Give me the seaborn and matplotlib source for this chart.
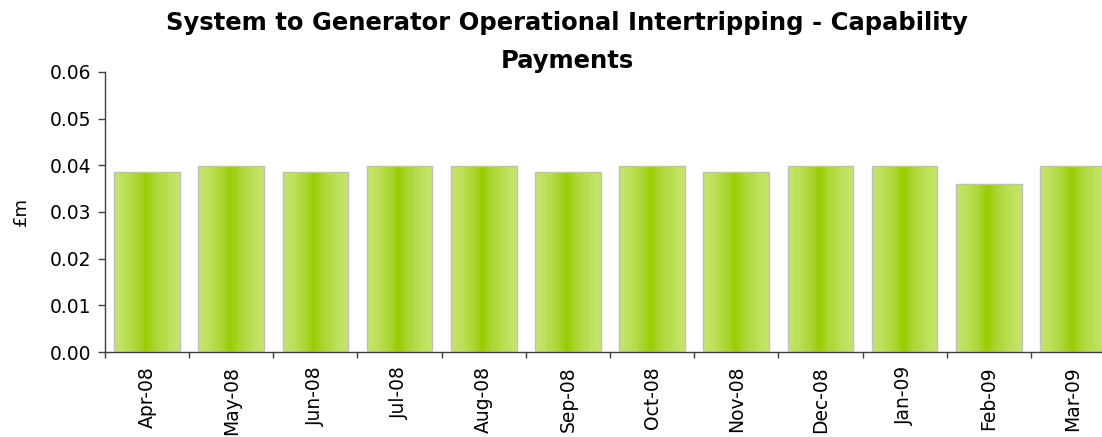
import numpy as np
import pandas as pd
import matplotlib
matplotlib.use("Agg")
import matplotlib.pyplot as plt
from matplotlib.colors import LinearSegmentedColormap
import seaborn as sns

months = ["Apr-08", "May-08", "Jun-08", "Jul-08", "Aug-08", "Sep-08",
          "Oct-08", "Nov-08", "Dec-08", "Jan-09", "Feb-09", "Mar-09"]
payments = [0.0386, 0.0398, 0.0386, 0.0398, 0.0398, 0.0386,
            0.0398, 0.0386, 0.0398, 0.0398, 0.0361, 0.0398]
yticks = [0.00, 0.01, 0.02, 0.03, 0.04, 0.05, 0.06]
title = "System to Generator Operational Intertripping - Capability\nPayments"

sns.set_theme(style="white")
plt.rcParams['font.family'] = ['DejaVu Sans']
plt.rcParams['text.color'] = 'black'
plt.rcParams['xtick.color'] = 'black'
plt.rcParams['ytick.color'] = 'black'
plt.rcParams['axes.labelcolor'] = 'black'

df = pd.DataFrame({"month": months, "value": payments})

fig = plt.figure(figsize=(11.02, 4.37), dpi=100)
ax = fig.add_axes([105 / 1102, 85 / 437, 1010 / 1102, 280 / 437])

sns.barplot(data=df, x="month", y="value", color="#99cc00", width=0.78,
            ax=ax, saturation=1)

cmap = LinearSegmentedColormap.from_list(
    "g", [(0.0, "#c6e46e"), (0.15, "#bde05a"), (0.35, "#aad634"),
          (0.48, "#99cc00"), (0.62, "#aad634"), (0.85, "#bde05a"),
          (1.0, "#c6e46e")])
n_strips = 60
for p in list(ax.patches):
    x0, y0 = p.get_x(), p.get_y()
    w, h = p.get_width(), p.get_height()
    sw = w / n_strips
    lefts = x0 + sw * np.arange(n_strips)
    cols = [cmap((i + 0.5) / n_strips) for i in range(n_strips)]
    ax.bar(lefts, h, width=sw * 1.02, bottom=y0, align="edge",
           color=cols, linewidth=0, zorder=2)
    p.set_facecolor("none")
    p.set_edgecolor("#bfbfbf")
    p.set_linewidth(1.0)
    p.set_zorder(3)

ax.set_xlim(-0.5, len(months) - 0.5)
ax.set_ylim(0, 0.06)
ax.set_yticks(yticks)
ax.set_yticklabels([f"{v:.2f}" for v in yticks], fontsize=13.5)

ax.set_xticks(np.arange(-0.5, len(months), 1.0))
ax.set_xticklabels([])
ax.set_xticks(np.arange(len(months)), minor=True)
ax.set_xticklabels(months, minor=True, rotation=90, fontsize=13.5)
ax.tick_params(axis="x", which="major", direction="out", length=4,
               width=1, color="#404040", bottom=True)
ax.tick_params(axis="x", which="minor", length=0, pad=10, bottom=True)
ax.tick_params(axis="y", direction="out", length=5, width=1,
               color="#404040", left=True, pad=5)

for s in ["top", "right"]:
    ax.spines[s].set_visible(False)
for s in ["left", "bottom"]:
    ax.spines[s].set_color("#404040")
    ax.spines[s].set_linewidth(1.0)

ax.set_xlabel("")
ax.set_ylabel("£m", fontsize=13, labelpad=14)

fig.text(567 / 1102, 1 - 42 / 437, title, ha="center", va="center",
         fontsize=17.5, fontweight="bold", linespacing=1.7)

fig.savefig("out.png", dpi=100)
